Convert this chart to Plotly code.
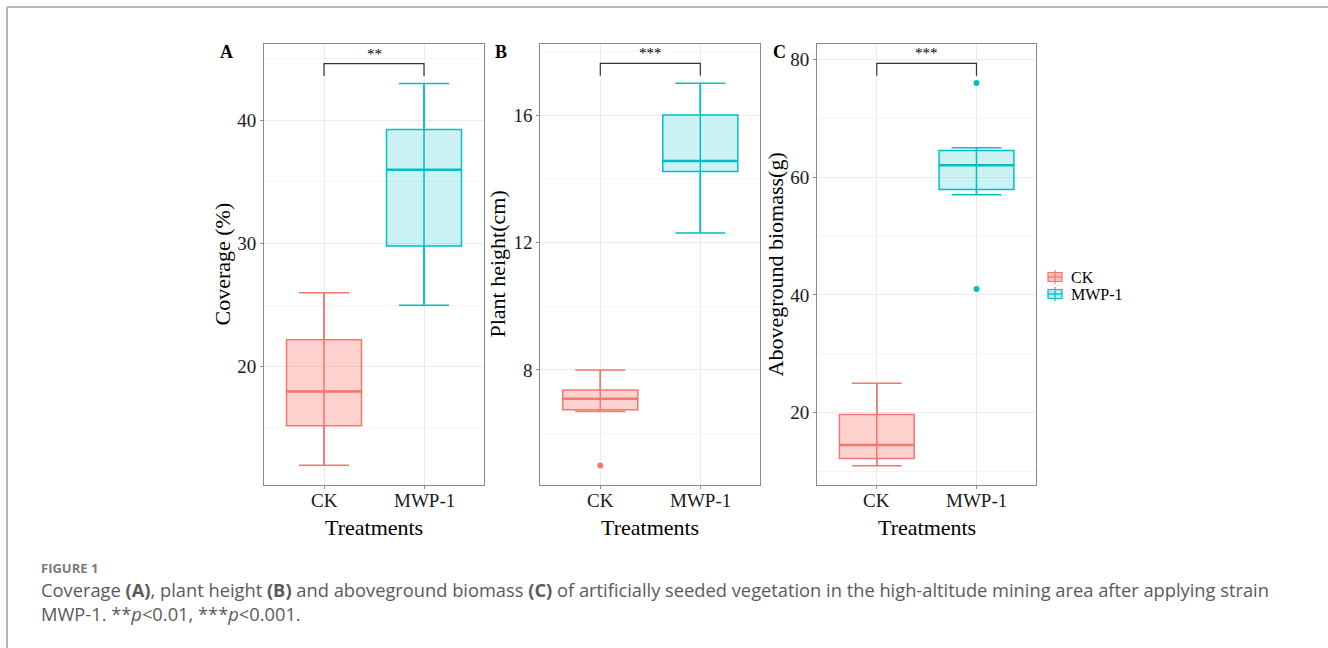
import plotly.graph_objects as go

# ---------------- data ----------------
groups = ["CK", "MWP-1"]
colors = ["#F8766D", "#00BFC4"]
fills = ["rgba(248,118,109,0.33)", "rgba(0,191,196,0.20)"]
legend_fills = ["rgba(248,118,109,0.45)", "rgba(0,191,196,0.30)"]

# Panel A: Coverage (%)
cov_lower = [12.0, 25.0]
cov_q1 = [15.2, 29.8]
cov_med = [18.0, 36.0]
cov_q3 = [22.2, 39.25]
cov_upper = [26.0, 43.0]
cov_out_x = []
cov_out_y = []

# Panel B: Plant height (cm)
ht_lower = [6.7, 12.3]
ht_q1 = [6.75, 14.23]
ht_med = [7.1, 14.56]
ht_q3 = [7.37, 16.0]
ht_upper = [8.0, 17.0]
ht_out_x = [0]
ht_out_y = [5.0]

# Panel C: Aboveground biomass (g)
bm_lower = [11.0, 57.0]
bm_q1 = [12.25, 57.9]
bm_med = [14.5, 62.0]
bm_q3 = [19.7, 64.5]
bm_upper = [25.0, 65.0]
bm_out_x = [1, 1]
bm_out_y = [76.0, 41.0]

# significance brackets: (top, end) and label
sig_labels = ["**", "***", "***"]
sig_top = [44.6, 17.62, 79.3]
sig_end = [43.6, 17.23, 77.2]

x_title = "Treatments"
y_titles = ["Coverage (%)", "Plant height(cm)", "Aboveground biomass(g)"]
panel_letters = ["A", "B", "C"]
y_ranges = [[10.4, 46.2], [4.39, 18.23], [7.73, 82.6]]
y_dticks = [10, 4, 20]
y_tick0 = [0, 0, 0]

caption_head = "FIGURE 1"
caption_lines = [
    "Coverage <b>(A)</b>, plant height <b>(B)</b> and aboveground biomass <b>(C)</b> of artificially seeded vegetation in the high-altitude mining area after applying strain",
    "MWP-1. **<i>p</i>&lt;0.01, ***<i>p</i>&lt;0.001.",
]

# ---------------- layout constants ----------------
W, H = 1328, 648
x_doms_px = [(264, 484), (540.3, 760.3), (817, 1036.3)]
y_dom_px = (44, 485)
BOXW = 0.75
WHISK = 0.5
SERIF = "Liberation Serif, Times New Roman, serif"

panels = [
    (cov_lower, cov_q1, cov_med, cov_q3, cov_upper, cov_out_x, cov_out_y),
    (ht_lower, ht_q1, ht_med, ht_q3, ht_upper, ht_out_x, ht_out_y),
    (bm_lower, bm_q1, bm_med, bm_q3, bm_upper, bm_out_x, bm_out_y),
]

fig = go.Figure()
shapes = []
annotations = []

for p, (lo, q1, md, q3, up, ox, oy) in enumerate(panels):
    xa = "x" if p == 0 else f"x{p+1}"
    ya = "y" if p == 0 else f"y{p+1}"
    for i, g in enumerate(groups):
        fig.add_trace(go.Scatter(
            x=[i, i], y=[lo[i], up[i]], mode="lines",
            line=dict(color=colors[i], width=1.5), showlegend=False,
            hoverinfo="skip", xaxis=xa, yaxis=ya))
        fig.add_trace(go.Box(
            x=[i], q1=[q1[i]], median=[md[i]], q3=[q3[i]],
            lowerfence=[lo[i]], upperfence=[up[i]],
            width=BOXW, whiskerwidth=WHISK / BOXW,
            fillcolor=fills[i], line=dict(color=colors[i], width=1.5),
            boxpoints=False, name=g, showlegend=False,
            xaxis=xa, yaxis=ya))
        fig.add_trace(go.Scatter(
            x=[i - BOXW / 2, i + BOXW / 2], y=[md[i], md[i]], mode="lines",
            line=dict(color=colors[i], width=2.5), showlegend=False,
            hoverinfo="skip", xaxis=xa, yaxis=ya))
        # category tick label
        annotations.append(dict(
            x=i, y=1 - 500 / H, xref=xa, yref="paper", text=g,
            showarrow=False, xanchor="center", yanchor="middle",
            font=dict(family=SERIF, size=19, color="#1a1a1a")))
    for k in range(len(ox)):
        fig.add_trace(go.Scatter(
            x=[ox[k]], y=[oy[k]], mode="markers",
            marker=dict(color=colors[ox[k]], size=6), showlegend=False,
            xaxis=xa, yaxis=ya))

    shapes.append(dict(
        type="path", xref=xa, yref=ya,
        path=f"M 0 {sig_end[p]} L 0 {sig_top[p]} L 1 {sig_top[p]} L 1 {sig_end[p]}",
        line=dict(color="#333333", width=1.2)))
    annotations.append(dict(
        x=0.5, y=sig_top[p], xref=xa, yref=ya, text=sig_labels[p],
        showarrow=False, yanchor="bottom", yshift=0,
        font=dict(family=SERIF, size=15, color="#000")))

    x0, x1 = x_doms_px[p]
    dom_x = [x0 / W, x1 / W]
    dom_y = [1 - y_dom_px[1] / H, 1 - y_dom_px[0] / H]
    axis_common = dict(
        showline=True, mirror=True, linecolor="#8a8a8a", linewidth=1,
        ticks="outside", ticklen=3, tickcolor="#8a8a8a",
        tickfont=dict(family=SERIF, size=19, color="#1a1a1a"),
        zeroline=False, gridcolor="#EBEBEB", gridwidth=1)
    xkey = "xaxis" if p == 0 else f"xaxis{p+1}"
    ykey = "yaxis" if p == 0 else f"yaxis{p+1}"
    fig.layout[xkey] = dict(
        axis_common, domain=dom_x, anchor=ya, range=[-0.6, 1.6],
        tickmode="array", tickvals=[0, 1], showticklabels=False)
    fig.layout[ykey] = dict(
        axis_common, domain=dom_y, anchor=xa, range=y_ranges[p],
        tick0=y_tick0[p], dtick=y_dticks[p],
        minor=dict(dtick=y_dticks[p] / 2, tick0=y_tick0[p], showgrid=True,
                   gridcolor="#F4F4F4", gridwidth=0.8, ticks=""))
    # x title
    annotations.append(dict(
        x=(x0 + x1) / 2 / W, y=1 - 527 / H, xref="paper", yref="paper",
        text=x_title, showarrow=False, xanchor="center", yanchor="middle",
        font=dict(family=SERIF, size=22, color="#000")))
    title_x = [222, 497, 775][p]
    annotations.append(dict(
        x=title_x / W, y=1 - (y_dom_px[0] + y_dom_px[1]) / 2 / H,
        xref="paper", yref="paper", text=y_titles[p], textangle=-90,
        showarrow=False, xanchor="center", yanchor="middle",
        font=dict(family=SERIF, size=22, color="#000")))
    letter_x = [227, 501, 779][p]
    annotations.append(dict(
        x=letter_x / W, y=1 - 52 / H, xref="paper", yref="paper",
        text=f"<b>{panel_letters[p]}</b>", showarrow=False,
        xanchor="center", yanchor="middle",
        font=dict(family=SERIF, size=18, color="#000")))

# manual legend (box-style keys)
leg_centers = [277, 294]
for i, g in enumerate(groups):
    cy = leg_centers[i]
    shapes.append(dict(type="line", xref="paper", yref="paper",
                       x0=1055 / W, x1=1055 / W,
                       y0=1 - (cy - 7) / H, y1=1 - (cy + 7) / H,
                       line=dict(color=colors[i], width=1.2)))
    shapes.append(dict(type="rect", xref="paper", yref="paper",
                       x0=1048 / W, x1=1062 / W,
                       y0=1 - (cy - 4.5) / H, y1=1 - (cy + 4.5) / H,
                       fillcolor=legend_fills[i],
                       line=dict(color=colors[i], width=1.2)))
    shapes.append(dict(type="line", xref="paper", yref="paper",
                       x0=1048 / W, x1=1062 / W,
                       y0=1 - cy / H, y1=1 - cy / H,
                       line=dict(color=colors[i], width=1.2)))
    annotations.append(dict(
        x=1069 / W, y=1 - cy / H, xref="paper", yref="paper", text=g,
        showarrow=False, xanchor="left", yanchor="middle",
        font=dict(family=SERIF, size=16, color="#000")))

# figure frame lines
shapes.append(dict(type="line", xref="paper", yref="paper",
                   x0=7 / W, x1=1, y0=1 - 7 / H, y1=1 - 7 / H,
                   line=dict(color="#b5b5b5", width=2)))
shapes.append(dict(type="line", xref="paper", yref="paper",
                   x0=7 / W, x1=7 / W, y0=0, y1=1 - 7 / H,
                   line=dict(color="#b5b5b5", width=2)))

# caption
CAP = "Open Sans, Noto Sans, sans-serif"
annotations.append(dict(
    x=40 / W, y=1 - 568 / H, xref="paper", yref="paper",
    text=f"<b>{caption_head}</b>", borderpad=0,
    showarrow=False, xanchor="left", yanchor="middle",
    font=dict(family=CAP, size=13, color="#7a7a7a")))
annotations.append(dict(
    x=40 / W, y=1 - 601 / H, xref="paper", yref="paper",
    text="<br>".join(caption_lines), align="left", borderpad=0,
    showarrow=False, xanchor="left", yanchor="middle",
    font=dict(family=CAP, size=18.3, color="#5a5a5a")))

fig.update_layout(
    width=W, height=H, margin=dict(l=0, r=0, t=0, b=0),
    paper_bgcolor="white", plot_bgcolor="white",
    shapes=shapes, annotations=annotations,
    showlegend=False,
)

fig.write_html(
    "out.html",
    config={"displayModeBar": False},
    post_script="document.body.style.margin='0';document.body.style.padding='0';document.body.style.overflow='hidden';",
)
